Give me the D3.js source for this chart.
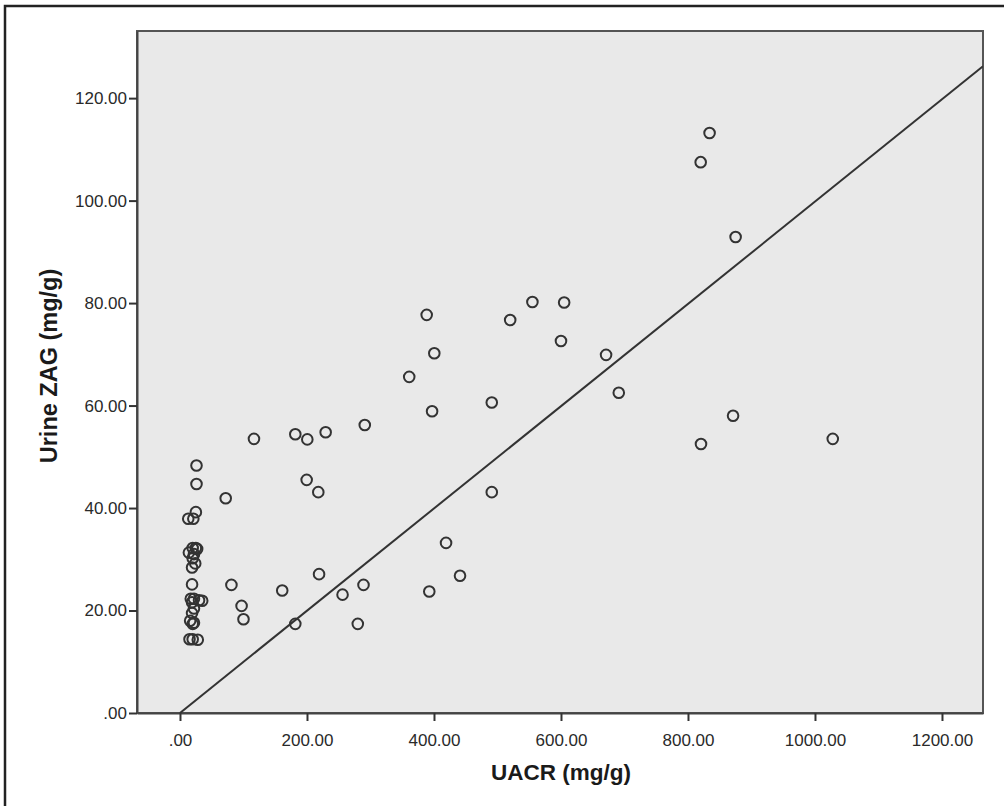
<!DOCTYPE html>
<html>
<head>
<meta charset="utf-8">
<title>UACR vs Urine ZAG</title>
<script src="https://d3js.org/d3.v7.min.js"></script>
<style>
  body { margin: 0; background: #fff; }
  text { font-family: "Liberation Sans", Arial, sans-serif; }
</style>
</head>
<body>
<div id="chart"></div>
<script>

// UACR (mg/g) per patient
var uacr = [
  26, 26, 25, 13, 21, 20, 25, 14, 22, 27, 20, 24, 19, 19, 17, 22, 30, 35, 19, 22, 19, 16, 22, 20, 15, 20, 28,
  72, 81, 97, 100, 116.5, 161, 181.6, 181.6, 200.5, 199.5, 217.8, 219, 229.4, 256, 280, 289, 291,
  361, 388.5, 392.6, 397, 400.5, 419, 441, 491, 491, 520, 555, 600, 605, 671, 691,
  820, 834, 875, 871, 820.5, 1028
];
// Urine ZAG (mg/g), same order
var zag = [
  48.3, 44.7, 39.2, 37.9, 37.9, 32.2, 32.2, 31.3, 31.0, 32.0, 30.2, 29.2, 28.4, 25.1, 22.3, 22.3, 22.0, 21.9, 21.6, 20.4, 19.5, 18.0, 17.6, 17.4, 14.4, 14.4, 14.3,
  41.9, 25.0, 20.9, 18.3, 53.5, 23.9, 54.4, 17.4, 53.4, 45.5, 43.1, 27.1, 54.8, 23.1, 17.4, 25.0, 56.2,
  65.6, 77.7, 23.7, 58.9, 70.2, 33.2, 26.8, 60.6, 43.1, 76.7, 80.2, 72.6, 80.1, 69.9, 62.5,
  107.5, 113.2, 92.9, 58.0, 52.5, 53.5
];

var xTicks = [0, 200, 400, 600, 800, 1000, 1200];
var yTicks = [0, 20, 40, 60, 80, 100, 120];

// fit line
var fitIntercept = 0.0;
var fitSlope = 0.0998;

var width = 1004, height = 806;
var margin = { top: 31, right: 21, bottom: 93, left: 137 };

var svg = d3.select("#chart")
  .append("svg")
  .attr("width", width)
  .attr("height", height);

// outer frame
svg.append("rect")
  .attr("x", 5).attr("y", 6)
  .attr("width", width + 20).attr("height", height + 20)
  .attr("fill", "none")
  .attr("stroke", "#222")
  .attr("stroke-width", 2.5);

var x = d3.scaleLinear()
  .domain([-67.7, 1264.6])
  .range([margin.left, width - margin.right]);

var y = d3.scaleLinear()
  .domain([0, 133.1])
  .range([height - margin.bottom, margin.top]);

var fmt = function (d) { return d3.format(".2f")(d).replace(/^0\./, "."); };

// plot background
svg.append("rect")
  .attr("x", x.range()[0]).attr("y", y.range()[1])
  .attr("width", x.range()[1] - x.range()[0])
  .attr("height", y.range()[0] - y.range()[1])
  .attr("fill", "#e9e9e9")
  .attr("stroke", "#555")
  .attr("stroke-width", 2);

svg.append("clipPath").attr("id", "plotclip")
  .append("rect")
  .attr("x", x.range()[0]).attr("y", y.range()[1])
  .attr("width", x.range()[1] - x.range()[0])
  .attr("height", y.range()[0] - y.range()[1]);

// X axis
var gx = svg.append("g")
  .attr("transform", "translate(0," + y.range()[0] + ")")
  .call(d3.axisBottom(x).tickValues(xTicks).tickFormat(fmt).tickSize(8).tickPadding(13).tickSizeOuter(0));

// Y axis
var gy = svg.append("g")
  .attr("transform", "translate(" + x.range()[0] + ",0)")
  .call(d3.axisLeft(y).tickValues(yTicks).tickFormat(fmt).tickSize(8).tickPadding(2).tickSizeOuter(0));

[gx, gy].forEach(function (g) {
  g.select(".domain").attr("stroke", "#444").attr("stroke-width", 2);
  g.selectAll(".tick line").attr("stroke", "#333").attr("stroke-width", 2);
  g.selectAll(".tick text")
    .attr("fill", "#2a2a2a")
    .style("font-size", "17px")
    .style("font-family", "'Liberation Sans', Arial, sans-serif");
});

// regression line
var plot = svg.append("g").attr("clip-path", "url(#plotclip)");
var fitX = [0, x.domain()[1]];
plot.append("path")
  .datum(fitX)
  .attr("d", d3.line()
    .x(function (d) { return x(d); })
    .y(function (d) { return y(fitIntercept + fitSlope * d); }))
  .attr("fill", "none")
  .attr("stroke", "#333")
  .attr("stroke-width", 2);

// points
plot.selectAll("circle.pt")
  .data(d3.range(uacr.length))
  .enter()
  .append("circle")
  .attr("class", "pt")
  .attr("cx", function (i) { return x(uacr[i]); })
  .attr("cy", function (i) { return y(zag[i]); })
  .attr("r", 5.3)
  .attr("fill", "none")
  .attr("stroke", "#333")
  .attr("stroke-width", 2);

// axis titles
svg.append("text")
  .attr("x", 561).attr("y", 780)
  .attr("text-anchor", "middle")
  .attr("fill", "#1a1a1a")
  .style("font-size", "22.5px")
  .style("font-weight", "bold")
  .text("UACR (mg/g)");

svg.append("text")
  .attr("transform", "translate(57,366) rotate(-90)")
  .attr("text-anchor", "middle")
  .attr("fill", "#1a1a1a")
  .style("font-size", "23.5px")
  .style("font-weight", "bold")
  .text("Urine ZAG (mg/g)");

</script>
</body>
</html>
